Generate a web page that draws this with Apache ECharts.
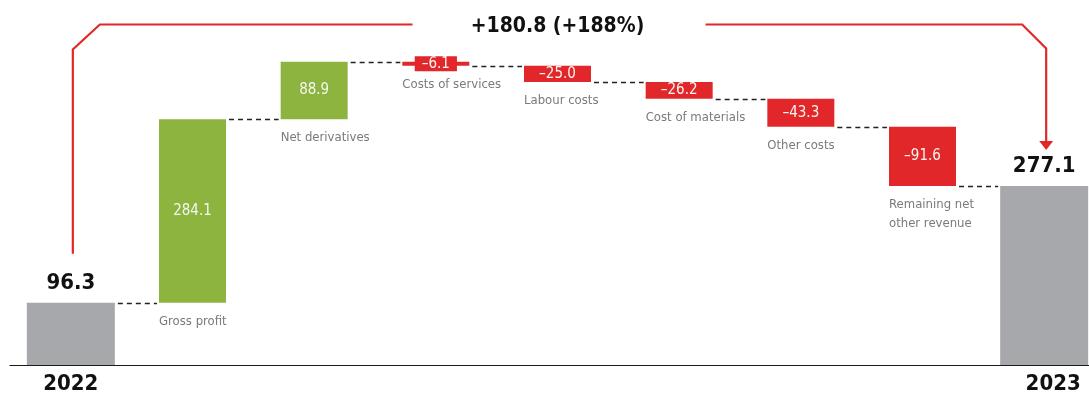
<!DOCTYPE html>
<html><head><meta charset="utf-8">
<script src="https://cdn.jsdelivr.net/npm/echarts@6/dist/echarts.min.js"></script>
<style>html,body{margin:0;padding:0;background:#fff;overflow:hidden}#c{width:1105px;height:394px}</style>
</head><body><div id="c"></div>
<script>
// ---- data ----
const categories = ['2022', 'Gross profit', 'Net derivatives', 'Costs of services', 'Labour costs',
  'Cost of materials', 'Other costs', 'Remaining net\nother revenue', '2023'];
const startValue = 96.3;
const endValue = 277.1;
const deltas = [284.1, 88.9, -6.1, -25.0, -26.2, -43.3, -91.6]; // categories 1..7
const yMin = 0;
const yMax = 500;

// ---- derived ----
const FONT = '"DejaVu Sans Condensed", "Liberation Sans", sans-serif';
const GREEN = '#8cb43f', RED = '#e2272b', GREY = '#a7a8ab';
const cum = [startValue];
deltas.forEach(d => cum.push(Math.round((cum[cum.length - 1] + d) * 10) / 10));
const n = categories.length;
const fmt = d => (d < 0 ? '\u2013' + Math.abs(d).toFixed(1) : d.toFixed(1));

const totalsData = categories.map((c, i) => i === 0 ? startValue : (i === n - 1 ? endValue : '-'));
const baseData = categories.map((c, i) => (i === 0 || i === n - 1) ? '-' : Math.min(cum[i - 1], cum[i]));
const deltaData = categories.map((c, i) => {
  if (i === 0 || i === n - 1) return '-';
  const d = deltas[i - 1];
  return {
    value: Math.abs(d),
    itemStyle: { color: d < 0 ? RED : GREEN },
    label: { backgroundColor: d < 0 ? RED : 'transparent', formatter: fmt(d) }
  };
});
const connData = cum.map((v, i) => [i, v]);
const change = endValue - startValue;
const changeText = (change >= 0 ? '+' : '\u2013') + Math.abs(change).toFixed(1) +
  ' (' + (change >= 0 ? '+' : '\u2013') + Math.round(Math.abs(change) / startValue * 100) + '%)';

const halfW = idx => (idx === 0 || idx === n - 1) ? 44 : 33.5;

const chart = echarts.init(document.getElementById('c'), null, { renderer: 'canvas' });
chart.setOption({
  animation: false,
  grid: { left: 10, right: 0, top: 42, bottom: 29, containLabel: false, outerBoundsMode: 'none' },
  xAxis: [{
    type: 'category', data: categories, boundaryGap: true,
    axisLine: { show: true, lineStyle: { color: '#1a1a1a', width: 1.2 } },
    axisTick: { show: false },
    axisLabel: {
      interval: 0, margin: 8,
      formatter: (v, i) => i === 0 ? '{a|' + v + '}' : (i === n - 1 ? '{b|' + v + '}' : ''),
      rich: {
        a: { fontFamily: FONT, fontWeight: 'bold', fontSize: 22, color: '#111' },
        b: { fontFamily: FONT, fontWeight: 'bold', fontSize: 22, color: '#111', padding: [0, 0, 0, 18] }
      }
    }
  }, {
    type: 'category', data: categories, show: false
  }],
  yAxis: { type: 'value', min: yMin, max: yMax, show: false, splitLine: { show: false } },
  series: [{
    name: 'totals', type: 'bar', xAxisIndex: 0, barWidth: 88,
    data: totalsData, itemStyle: { color: GREY },
    label: { show: true, position: 'top', distance: 9, fontFamily: FONT, fontWeight: 'bold', fontSize: 22, color: '#111' }
  }, {
    name: 'base', type: 'bar', xAxisIndex: 1, stack: 'w', barWidth: 67,
    data: baseData, itemStyle: { color: 'transparent' },
    label: { show: true, position: [0, 9], align: 'left', verticalAlign: 'top', formatter: '{b}',
      fontFamily: FONT, fontSize: 13, lineHeight: 19, color: '#7a7a7a' }
  }, {
    name: 'delta', type: 'bar', xAxisIndex: 1, stack: 'w', barWidth: 67,
    data: deltaData,
    label: { show: true, position: 'inside', fontFamily: FONT, fontSize: 15, lineHeight: 15,
      padding: [0, 7], color: '#f6f6f0' }
  }, {
    name: 'connectors', type: 'custom', xAxisIndex: 0, silent: true,
    encode: { x: 0, y: 1 },
    data: connData,
    renderItem: (params, api) => {
      const i = api.value(0), v = api.value(1);
      const p0 = api.coord([i, v]), p1 = api.coord([i + 1, v]);
      const y = Math.round(p0[1]) + 0.5;
      return { type: 'line', shape: { x1: p0[0] + halfW(i) + 3, y1: y, x2: p1[0] - halfW(i + 1) - 2, y2: y },
        style: { stroke: '#222', lineWidth: 1.4, lineDash: [5, 4] } };
    }
  }, {
    name: 'bracket', type: 'custom', xAxisIndex: 0, silent: true,
    encode: { x: [0, 2], y: [1, 3] },
    data: [[0, startValue, n - 1, endValue]],
    renderItem: (params, api) => {
      const a = api.coord([api.value(0), api.value(1)]);
      const b = api.coord([api.value(2), api.value(3)]);
      const xL = a[0] + 2, xR = b[0] + 2, top = 24.5, mid = (a[0] + b[0]) / 2;
      const st = { stroke: RED, lineWidth: 2.2, fill: null, lineJoin: 'miter' };
      return { type: 'group', children: [
        { type: 'polyline', shape: { points: [[xL, a[1] - 49], [xL, top + 25], [xL + 27, top], [mid - 145, top]] }, style: st },
        { type: 'polyline', shape: { points: [[mid + 148, top], [xR - 24, top], [xR, top + 24], [xR, b[1] - 44]] }, style: st },
        { type: 'polygon', shape: { points: [[xR - 7, b[1] - 45], [xR + 7, b[1] - 45], [xR, b[1] - 36]] }, style: { fill: RED } },
        { type: 'text', x: mid, y: 27, style: { text: changeText, fill: '#111', fontFamily: FONT, fontWeight: 'bold',
          fontSize: 21, align: 'center', verticalAlign: 'middle' } }
      ] };
    }
  }]
});
</script>
</body></html>
